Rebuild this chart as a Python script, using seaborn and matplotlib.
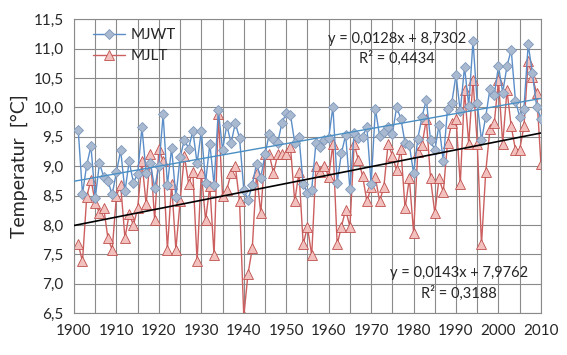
import numpy as np
import pandas as pd
import matplotlib
matplotlib.use("Agg")
import matplotlib.pyplot as plt
import seaborn as sns
from matplotlib.ticker import MultipleLocator, FuncFormatter

years = list(range(1901, 2011))

mjwt = [9.61, 8.53, 9.02, 9.34, 8.45, 9.05, 8.82, 8.74, 8.52, 8.90,
        9.27, 8.57, 9.08, 8.72, 8.87, 9.66, 8.88, 9.05, 8.63, 9.00,
        9.88, 8.68, 9.31, 8.47, 9.15, 9.45, 9.30, 9.60, 9.05, 9.60,
        8.72, 9.38, 8.68, 9.95, 9.28, 9.70, 9.39, 9.73, 9.48, 8.60,
        8.42, 8.68, 9.04, 8.80, 9.20, 9.55, 9.47, 9.40, 9.74, 9.90,
        9.87, 9.40, 9.50, 8.69, 8.55, 8.60, 9.40, 9.33, 9.44, 9.48,
        10.01, 8.72, 9.22, 9.53, 8.61, 9.57, 9.48, 9.50, 9.67, 8.69,
        9.98, 9.51, 9.58, 9.67, 9.55, 10.00, 9.81, 9.39, 9.36, 8.88,
        9.47, 9.84, 10.13, 9.44, 9.27, 9.70, 9.08, 9.98, 10.08, 10.55,
        9.93, 10.69, 10.02, 11.13, 10.07, 9.44, 9.84, 10.32, 10.21, 10.70,
        10.25, 10.70, 10.98, 10.11, 9.84, 9.98, 11.07, 10.58, 10.01, 9.81]

mjlt = [7.67, 7.38, 8.48, 8.77, 8.38, 8.20, 8.29, 7.77, 7.58, 8.50,
        8.68, 7.78, 8.18, 8.00, 8.28, 9.08, 8.35, 9.20, 8.08, 9.30,
        9.08, 7.58, 8.70, 7.58, 8.40, 9.18, 8.70, 8.90, 7.38, 8.89,
        8.08, 8.66, 7.48, 9.88, 8.50, 8.60, 8.88, 9.00, 8.40, 6.45,
        7.17, 7.60, 8.88, 8.20, 9.20, 9.20, 8.88, 9.20, 9.20, 9.20,
        9.33, 8.40, 8.90, 7.67, 7.97, 7.48, 9.00, 8.90, 9.00, 8.82,
        9.38, 7.67, 7.97, 8.26, 7.97, 9.38, 9.10, 8.83, 8.40, 8.64,
        8.81, 8.40, 8.65, 9.38, 9.18, 8.93, 9.30, 8.28, 8.79, 7.87,
        9.24, 9.36, 9.80, 8.79, 8.20, 8.79, 8.56, 9.40, 9.74, 9.81,
        8.69, 10.29, 9.38, 10.47, 9.38, 7.67, 8.90, 9.64, 9.73, 10.46,
        9.38, 10.29, 9.68, 9.28, 9.28, 9.68, 10.79, 10.51, 10.24, 9.04]

# Excel-Trendlinien (x = laufender Index, 1900 -> 1)
trend_years = list(range(1900, 2011))
wt_slope, wt_icpt = 0.0128, 8.7302
lt_slope, lt_icpt = 0.0143, 7.9762

df = pd.DataFrame({"Jahr": years, "MJWT": mjwt, "MJLT": mjlt})
idx = np.array(trend_years) - 1899
trend = pd.DataFrame({"Jahr": trend_years,
                      "wt": wt_slope * idx + wt_icpt,
                      "lt": lt_slope * idx + lt_icpt})

sns.set_style("white")
plt.rcParams['font.family'] = ['Lato', 'DejaVu Sans']

fig, ax = plt.subplots(figsize=(5.67, 3.55), dpi=100)
fig.subplots_adjust(left=0.1305, right=0.954, top=0.946, bottom=0.118)

sns.lineplot(data=df, x="Jahr", y="MJWT", ax=ax, color="#5b8ec8", linewidth=1.0,
             marker="D", markersize=5, markerfacecolor="#a9b9d0",
             markeredgecolor="#7f98bb", markeredgewidth=0.6, label="MJWT", zorder=3)
sns.lineplot(data=df, x="Jahr", y="MJLT", ax=ax, color="#cc5f5f", linewidth=1.0,
             marker="^", markersize=6.5, markerfacecolor="#f2c0bd",
             markeredgecolor="#c0504d", markeredgewidth=0.6, label="MJLT", zorder=2)
sns.lineplot(data=trend, x="Jahr", y="wt", ax=ax, color="#4a8fc4", linewidth=1.0,
             legend=False, zorder=4)
sns.lineplot(data=trend, x="Jahr", y="lt", ax=ax, color="black", linewidth=1.2,
             legend=False, zorder=4)

ax.set_xlim(1900, 2010)
ax.set_ylim(6.5, 11.5)
ax.xaxis.set_major_locator(MultipleLocator(10))
ax.xaxis.set_minor_locator(MultipleLocator(5))
ax.yaxis.set_major_locator(MultipleLocator(0.5))
ax.yaxis.set_major_formatter(FuncFormatter(lambda v, p: f"{v:.1f}".replace(".", ",")))
ax.grid(True, which="both", color="#8a8a8a", linewidth=0.8)
ax.set_axisbelow(True)
for s in ax.spines.values():
    s.set_color("#8a8a8a")
    s.set_linewidth(0.8)
ax.tick_params(axis="x", which="both", direction="out", length=4, color="#8a8a8a",
               labelsize=11, pad=4)
ax.tick_params(axis="y", which="both", direction="out", length=4, color="#8a8a8a",
               labelsize=11)
ax.set_xlabel("")
ax.set_ylabel("Temperatur  [°C]", fontsize=14)

ax.text(0.692, 0.932, "y = 0,0128x + 8,7302", transform=ax.transAxes,
        ha="center", va="center", fontsize=10.5)
ax.text(0.692, 0.867, "R² = 0,4434", transform=ax.transAxes,
        ha="center", va="center", fontsize=10.5)
ax.text(0.824, 0.136, "y = 0,0143x + 7,9762", transform=ax.transAxes,
        ha="center", va="center", fontsize=10.5)
ax.text(0.824, 0.068, "R² = 0,3188", transform=ax.transAxes,
        ha="center", va="center", fontsize=10.5)

ax.legend(loc="upper left", bbox_to_anchor=(0.028, 0.99), frameon=False,
          fontsize=11, handlelength=2.1, handletextpad=0.35,
          borderaxespad=0, labelspacing=0.45)

fig.savefig("out.png", dpi=100)
